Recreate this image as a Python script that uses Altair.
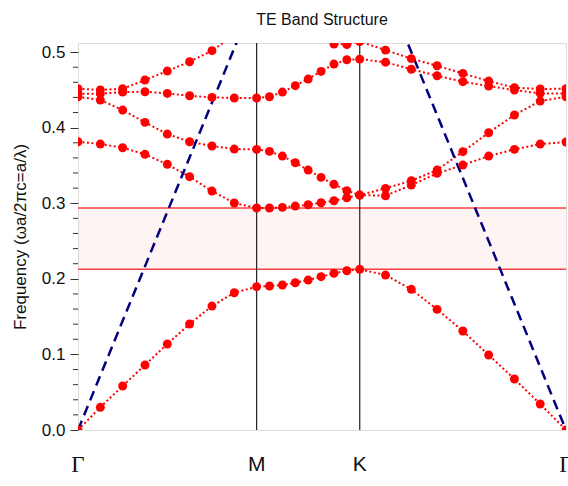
import altair as alt
import pandas as pd

# k-path distance (units of 2π/a): Γ → M → K → Γ, 8 intervals per segment
k_path = [0.0, 0.0722, 0.1443, 0.2165, 0.2887, 0.3608, 0.4330, 0.5052, 0.5774,
          0.6190, 0.6607, 0.7024, 0.7440, 0.7857, 0.8274, 0.8690, 0.9107,
          0.9940, 1.0774, 1.1607, 1.2440, 1.3274, 1.4107, 1.4940, 1.5774]

band1 = [0.0, 0.0300, 0.0582, 0.0860, 0.1138, 0.1402, 0.1640, 0.1816, 0.1896,
         0.1905, 0.1918, 0.1948, 0.1984, 0.2028, 0.2073, 0.2107, 0.2126,
         0.2050, 0.1861, 0.1596, 0.1310, 0.0992, 0.0675, 0.0344, 0.0]
band2 = [0.3814, 0.3783, 0.3734, 0.3647, 0.3515, 0.3351, 0.3161, 0.3003, 0.2937,
         0.2937, 0.2945, 0.2963, 0.2980, 0.3007, 0.3033, 0.3073, 0.3108,
         0.3099, 0.3241, 0.3395, 0.3505, 0.3624, 0.3713, 0.3783, 0.3810]
band3 = [0.4409, 0.4365, 0.4233, 0.4070, 0.3915, 0.3814, 0.3757, 0.3717, 0.3713,
         0.3686, 0.3624, 0.3536, 0.3439, 0.3342, 0.3250, 0.3166, 0.3108,
         0.3197, 0.3298, 0.3439, 0.3682, 0.3933, 0.4167, 0.4352, 0.4409]
band4 = [0.4450, 0.4450, 0.4470, 0.4475, 0.4453, 0.4422, 0.4400, 0.4392, 0.4392,
         0.4409, 0.4471, 0.4555, 0.4643, 0.4744, 0.4841, 0.4898, 0.4907,
         0.4866, 0.4773, 0.4687, 0.4608, 0.4550, 0.4497, 0.4454, 0.4450]
band5 = [0.4515, 0.4500, 0.4515, 0.4630, 0.4749, 0.4872, 0.5018, 0.5226, 0.5350,
         0.5400, 0.5400, 0.5370, 0.5320, 0.5230, 0.5106, 0.5100, 0.5140,
         0.5026, 0.4913, 0.4819, 0.4718, 0.4616, 0.4529, 0.4511, 0.4515]

# band gap edges
gap_lo = 0.2126
gap_hi = 0.2937

# light line (air), two branches
light_k = [0.0, 0.5774, 1.5774, 0.9107]
light_f = [0.0, 0.5774, 0.0, 0.6667]
light_branch = ["left", "left", "right", "right"]

# symmetry points
sym_k = [0.0, 0.5774, 0.9107, 1.5774]
sym_label = ["Γ", "M", "K", "Γ"]

y_major = [0.0, 0.1, 0.2, 0.3, 0.4, 0.5]
y_minor = [0.02, 0.04, 0.06, 0.08, 0.12, 0.14, 0.16, 0.18, 0.22, 0.24, 0.26, 0.28,
           0.32, 0.34, 0.36, 0.38, 0.42, 0.44, 0.46, 0.48]

W, H = 488, 387

rows = []
for name, vals in [("b1", band1), ("b2", band2), ("b3", band3), ("b4", band4), ("b5", band5)]:
    for i, (kk, ff) in enumerate(zip(k_path, vals)):
        rows.append({"band": name, "idx": i, "k": kk, "f": ff})
bands_df = pd.DataFrame(rows)

light_df = pd.DataFrame({"k": light_k, "f": light_f, "branch": light_branch})
sym_df = pd.DataFrame({"k": sym_k, "label": sym_label})
gap_df = pd.DataFrame({"lo": [gap_lo], "hi": [gap_hi]})
vline_df = pd.DataFrame({"k": sym_k[1:3]})
minor_df = pd.DataFrame({"v": y_minor})

xs = alt.Scale(domain=[0, 1.5774], nice=False, zero=False)
ys = alt.Scale(domain=[0, 0.512], nice=False)

y_axis = alt.Axis(values=y_major, title="Frequency (ωa/2πc=a/λ)", format=".1f",
                  labelOverlap=False, tickSize=8, tickColor="#333", tickWidth=1,
                  domain=False, grid=False,
                  labelFontSize=17, labelFont="Liberation Sans", labelColor="#111",
                  labelPadding=5, titleFontSize=17, titleFont="Liberation Sans",
                  titleFontWeight="normal", titleColor="#111", titlePadding=12)

x_enc = alt.X("k:Q", scale=xs, axis=None)
y_enc = alt.Y("f:Q", scale=ys, axis=y_axis)

gap_rect = alt.Chart(gap_df).mark_rect(color="#ff0000", opacity=0.045).encode(
    x=alt.value(0), x2=alt.value(W),
    y=alt.Y("lo:Q", scale=ys, axis=y_axis),
    y2="hi:Q",
)
gap_lo_line = alt.Chart(gap_df).mark_rule(color="#ff4040", strokeWidth=1.5).encode(
    y=alt.Y("lo:Q", scale=ys, axis=y_axis), x=alt.value(0), x2=alt.value(W))
gap_hi_line = alt.Chart(gap_df).mark_rule(color="#ff4040", strokeWidth=1.5).encode(
    y=alt.Y("hi:Q", scale=ys, axis=y_axis), x=alt.value(0), x2=alt.value(W))

minor_ticks = alt.Chart(minor_df).mark_rule(color="#333", strokeWidth=1).encode(
    y=alt.Y("v:Q", scale=ys, axis=y_axis), x=alt.value(-5), x2=alt.value(0))

vlines = alt.Chart(vline_df).mark_rule(color="#222", strokeWidth=1.2).encode(
    x=x_enc, y=alt.value(0), y2=alt.value(H))

band_lines = alt.Chart(bands_df).mark_line(
    color="#ff0000", strokeWidth=2, strokeDash=[2, 2.5], clip=True
).encode(x=x_enc, y=y_enc, detail="band:N", order="idx:Q")

band_pts = alt.Chart(bands_df).mark_circle(color="#ff0000", size=80, opacity=1, clip=True).encode(
    x=x_enc, y=y_enc)

light = alt.Chart(light_df).mark_line(
    color="#000080", strokeWidth=2.5, strokeDash=[10, 6], clip=True
).encode(x=x_enc, y=y_enc, detail="branch:N")

gamma_txt = alt.Chart(sym_df).transform_filter("datum.label == 'Γ'").mark_text(
    font="Liberation Serif", fontSize=23, color="#111", baseline="middle"
).encode(x=x_enc, y=alt.value(H + 35), text="label:N")
mk_txt = alt.Chart(sym_df).transform_filter("datum.label != 'Γ'").mark_text(
    font="Liberation Sans", fontSize=21, color="#111", baseline="middle"
).encode(x=x_enc, y=alt.value(H + 35), text="label:N")

chart = alt.layer(
    gap_rect, gap_lo_line, gap_hi_line, minor_ticks, vlines, band_lines, light, band_pts,
    gamma_txt, mk_txt
).properties(
    width=W, height=H,
    title=alt.TitleParams("TE Band Structure", fontSize=16, font="Liberation Sans",
                          fontWeight="normal", color="#111", offset=14),
    autosize=alt.AutoSizeParams(type="none"),
    padding={"left": 78, "top": 43, "right": 2, "bottom": 56},
).configure_view(stroke="#333", strokeWidth=1.5).configure(background="white")

chart.save("out.html", embed_options={"renderer": "svg", "actions": False})
